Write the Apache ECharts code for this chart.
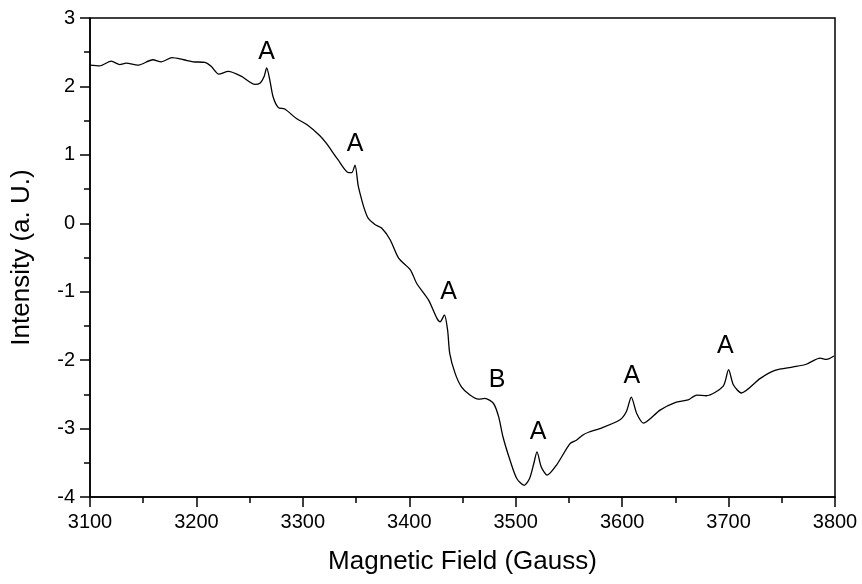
<!DOCTYPE html>
<html>
<head>
<meta charset="utf-8">
<script src="https://cdn.jsdelivr.net/npm/echarts@6/dist/echarts.min.js"></script>
<style>html,body{margin:0;padding:0;background:#fff;}#c{width:862px;height:584px;}</style>
</head>
<body>
<div id="c"></div>
<script>
var fieldGauss = [3100,3109,3120,3128,3134,3145,3159,3167,3177,3188,3197,3208,3214,3221,3230,3242,3255,3260,3263.5,3266,3269,3272,3277,3283,3294,3304,3316,3322,3333,3343,3346,3349,3352,3355,3358,3361.5,3368,3374,3382,3390,3401,3407,3418,3426,3429,3433,3436,3438,3443,3449,3457,3465,3471,3479,3484,3488,3494.6,3501,3508,3513,3517,3520,3524,3529.6,3538.5,3551,3557,3563.5,3569,3579,3598,3604,3608.6,3613.7,3620,3635.6,3649.7,3662,3670,3679,3695,3700,3704.5,3712,3729.5,3743.6,3760.8,3773,3786,3792,3799];
var intensity = [2.31,2.30,2.37,2.32,2.34,2.31,2.39,2.36,2.42,2.39,2.36,2.35,2.29,2.18,2.22,2.15,2.03,2.05,2.14,2.27,2.09,1.85,1.69,1.67,1.53,1.44,1.28,1.17,0.93,0.74,0.74,0.85,0.55,0.36,0.20,0.07,-0.02,-0.07,-0.24,-0.51,-0.68,-0.88,-1.12,-1.39,-1.44,-1.34,-1.56,-1.90,-2.19,-2.39,-2.51,-2.57,-2.56,-2.63,-2.83,-3.12,-3.46,-3.73,-3.83,-3.73,-3.51,-3.34,-3.56,-3.68,-3.53,-3.22,-3.17,-3.09,-3.05,-3.00,-2.87,-2.75,-2.54,-2.78,-2.92,-2.73,-2.62,-2.58,-2.51,-2.52,-2.38,-2.14,-2.36,-2.48,-2.27,-2.15,-2.10,-2.06,-1.97,-1.99,-1.94];
var peakText = ['A','A','A','B','A','A','A'];
var peakX = [3266,3349,3437,3482.5,3521,3609,3697];
var peakY = [2.50,1.16,-1.00,-2.29,-3.05,-2.23,-1.80];
var xTicks = [3100,3200,3300,3400,3500,3600,3700,3800];
var yTicks = [-4,-3,-2,-1,0,1,2,3];

var lineData = fieldGauss.map(function(x,i){return [x,intensity[i]];});
var labelData = peakX.map(function(x,i){return {name:peakText[i], value:[x,peakY[i]]};});
var font = 'Liberation Sans, Arial, sans-serif';

var chart = echarts.init(document.getElementById('c'));
chart.setOption({
  animation:false,
  backgroundColor:'#fff',
  grid:{left:90,right:27,top:18,bottom:87,show:true,borderColor:'#000',borderWidth:1.5,backgroundColor:'transparent'},
  xAxis:{
    type:'value',min:xTicks[0],max:xTicks[xTicks.length-1],interval:100,
    name:'Magnetic Field (Gauss)',nameLocation:'middle',nameGap:52,
    nameTextStyle:{fontFamily:font,fontSize:26,color:'#000'},
    axisLine:{show:true,onZero:false,lineStyle:{color:'#000',width:1.5}},
    axisTick:{show:true,inside:false,length:10,lineStyle:{color:'#000',width:1.5}},
    minorTick:{show:true,splitNumber:2,length:6,lineStyle:{color:'#000',width:1.5}},
    splitLine:{show:false},
    axisLabel:{fontFamily:font,fontSize:20,color:'#000',margin:15,formatter:function(v){return String(v);}}
  },
  yAxis:{
    type:'value',min:yTicks[0],max:yTicks[yTicks.length-1],interval:1,
    name:'Intensity (a. U.)',nameLocation:'middle',nameGap:55,
    nameTextStyle:{fontFamily:font,fontSize:26,color:'#000'},
    axisLine:{show:true,onZero:false,lineStyle:{color:'#000',width:1.5}},
    axisTick:{show:true,inside:false,length:10,lineStyle:{color:'#000',width:1.5}},
    minorTick:{show:true,splitNumber:2,length:6,lineStyle:{color:'#000',width:1.5}},
    splitLine:{show:false},
    axisLabel:{fontFamily:font,fontSize:20,color:'#000',margin:15,formatter:function(v){return String(v);}}
  },
  series:[
    {type:'line',data:lineData,showSymbol:false,smooth:0.25,lineStyle:{color:'#000',width:1.3},z:3},
    {type:'scatter',data:labelData,symbolSize:0,itemStyle:{opacity:1,color:'#000'},
      label:{show:true,position:'inside',opacity:1,formatter:function(p){return p.name;},fontFamily:font,fontSize:25,color:'#000',textBorderWidth:0,textShadowBlur:0},
      z:4}
  ]
});
</script>
</body>
</html>
